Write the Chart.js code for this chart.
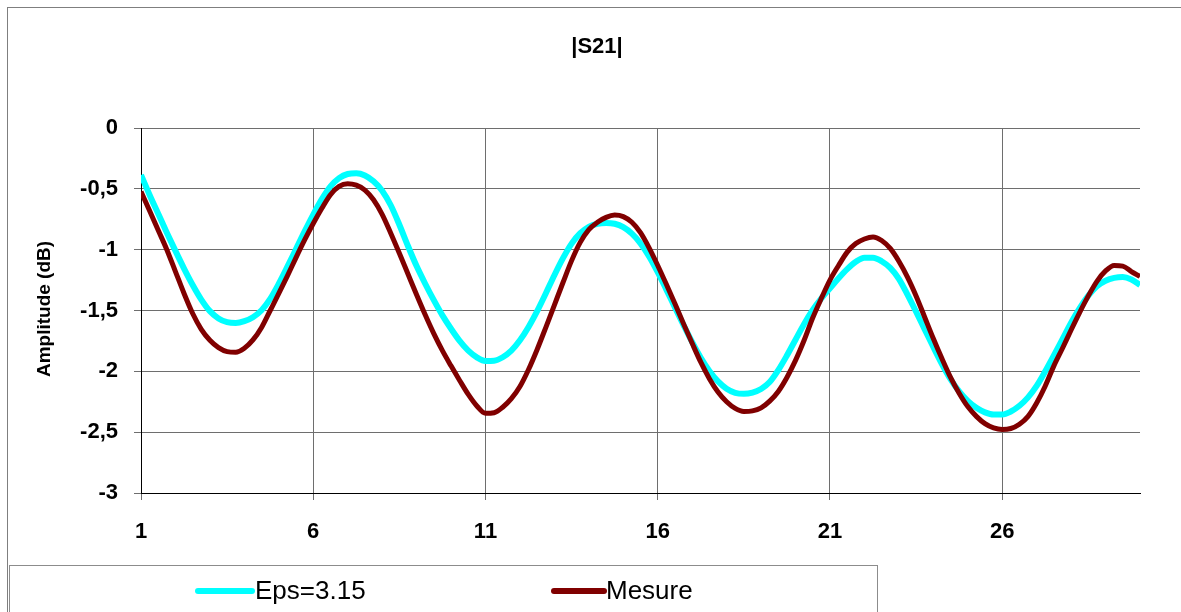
<!DOCTYPE html>
<html>
<head>
<meta charset="utf-8">
<script src="https://cdn.jsdelivr.net/npm/chart.js@4.4.1/dist/chart.umd.min.js"></script>
<style>
  html, body { margin: 0; padding: 0; background: #ffffff; }
  #wrap { position: relative; width: 1181px; height: 612px; }
</style>
</head>
<body>
<div id="wrap"><canvas id="c" width="1181" height="612"></canvas></div>
<script>
// |S21| amplitude (dB) versus frequency point
const chartTitle = '|S21|';
const yAxisTitle = 'Amplitude (dB)';
const seriesNames = ['Eps=3.15', 'Mesure'];
const seriesColors = ['#00FFFF', '#800000'];
const xTickValues = [1, 6, 11, 16, 21, 26];

const freq = [
  1, 1.25, 1.5, 1.75, 2, 2.25, 2.5, 2.75, 3, 3.25, 3.5, 3.75,
  4, 4.25, 4.5, 4.75, 5, 5.25, 5.5, 5.75, 6, 6.25, 6.5, 6.75,
  7, 7.25, 7.5, 7.75, 8, 8.25, 8.5, 8.75, 9, 9.25, 9.5, 9.75,
  10, 10.25, 10.5, 10.75, 11, 11.25, 11.5, 11.75, 12, 12.25, 12.5, 12.75,
  13, 13.25, 13.5, 13.75, 14, 14.25, 14.5, 14.75, 15, 15.25, 15.5, 15.75,
  16, 16.25, 16.5, 16.75, 17, 17.25, 17.5, 17.75, 18, 18.25, 18.5, 18.75,
  19, 19.25, 19.5, 19.75, 20, 20.25, 20.5, 20.75, 21, 21.25, 21.5, 21.75,
  22, 22.25, 22.5, 22.75, 23, 23.25, 23.5, 23.75, 24, 24.25, 24.5, 24.75,
  25, 25.25, 25.5, 25.75, 26, 26.25, 26.5, 26.75, 27, 27.25, 27.5, 27.75,
  28, 28.25, 28.5, 28.75, 29, 29.25, 29.5, 29.75, 30
];

const epsValues = [
  -0.386, -0.55, -0.705, -0.86, -1.01, -1.155, -1.29, -1.41, -1.505, -1.565, -1.596, -1.603,
  -1.588, -1.555, -1.498, -1.405, -1.28, -1.14, -0.995, -0.85, -0.712, -0.585, -0.48, -0.412,
  -0.378, -0.372, -0.39, -0.438, -0.515, -0.635, -0.795, -0.97, -1.135, -1.28, -1.415, -1.54,
  -1.65, -1.75, -1.83, -1.885, -1.915, -1.913, -1.884, -1.83, -1.745, -1.635, -1.505, -1.36,
  -1.21, -1.07, -0.95, -0.865, -0.812, -0.787, -0.78, -0.787, -0.815, -0.868, -0.948, -1.055,
  -1.185, -1.328, -1.475, -1.62, -1.76, -1.888, -1.997, -2.083, -2.143, -2.177, -2.185, -2.175,
  -2.145, -2.088, -1.99, -1.87, -1.74, -1.61, -1.495, -1.40, -1.318, -1.235, -1.16, -1.10,
  -1.066, -1.066, -1.095, -1.15, -1.24, -1.37, -1.51, -1.655, -1.80, -1.94, -2.065, -2.165,
  -2.243, -2.30, -2.337, -2.355, -2.355, -2.33, -2.283, -2.214, -2.12, -2.0, -1.87, -1.735,
  -1.60, -1.48, -1.378, -1.30, -1.255, -1.232, -1.225, -1.245, -1.29
];

const mesureValues = [
  -0.523, -0.68, -0.84, -1.0, -1.18, -1.36, -1.525, -1.655, -1.745, -1.805, -1.838, -1.843,
  -1.81, -1.742, -1.639, -1.50, -1.36, -1.215, -1.065, -0.92, -0.785, -0.66, -0.548, -0.48,
  -0.458, -0.47, -0.51, -0.59, -0.71, -0.865, -1.03, -1.20, -1.37, -1.535, -1.69, -1.83,
  -1.955, -2.075, -2.19, -2.285, -2.345, -2.34, -2.295, -2.225, -2.125, -1.985, -1.82, -1.64,
  -1.455, -1.27, -1.09, -0.94, -0.835, -0.775, -0.735, -0.716, -0.728, -0.775, -0.86, -0.985,
  -1.13, -1.285, -1.445, -1.61, -1.77, -1.925, -2.06, -2.17, -2.25, -2.305, -2.33, -2.325,
  -2.30, -2.245, -2.165, -2.05, -1.91, -1.745, -1.56, -1.40, -1.25, -1.13, -1.02, -0.95,
  -0.912, -0.895, -0.925, -0.99, -1.095, -1.225, -1.38, -1.555, -1.73, -1.895, -2.05, -2.18,
  -2.29, -2.37, -2.43, -2.465, -2.478, -2.47, -2.435, -2.37, -2.26, -2.12, -1.955, -1.81,
  -1.66, -1.515, -1.38, -1.26, -1.175, -1.13, -1.135, -1.18, -1.22
];

const FONT = "'Liberation Sans', Arial, Helvetica, sans-serif";

function toPoints(values) {
  return freq.map((f, i) => ({ x: f, y: values[i] }));
}

// Frame, title, vertical axis title and the legend box
const decorations = {
  id: 'decorations',
  beforeDraw(chart) {
    const ctx = chart.ctx;
    ctx.save();
    ctx.fillStyle = '#ffffff';
    ctx.fillRect(0, 0, chart.width, chart.height);
    ctx.strokeStyle = '#7f7f7f';
    ctx.lineWidth = 1;
    ctx.strokeRect(7.5, 7.5, 1300, 800);
    ctx.restore();
  },
  afterDraw(chart) {
    const ctx = chart.ctx;
    ctx.save();
    ctx.fillStyle = '#000000';
    ctx.textAlign = 'center';
    ctx.textBaseline = 'middle';
    ctx.font = 'bold 22px ' + FONT;
    ctx.fillText(chartTitle, 597, 47);

    ctx.save();
    ctx.translate(45, 309);
    ctx.rotate(-Math.PI / 2);
    ctx.font = 'bold 19px ' + FONT;
    ctx.fillText(yAxisTitle, 0, 0);
    ctx.restore();

    // legend
    ctx.strokeStyle = '#8c8c8c';
    ctx.lineWidth = 1;
    ctx.strokeRect(9.5, 565.5, 868, 100);
    const entries = [
      { x0: 198, x1: 252, tx: 255 },
      { x0: 554, x1: 604, tx: 606 }
    ];
    const ly = 591;
    chart.data.datasets.forEach((ds, i) => {
      const e = entries[i];
      ctx.strokeStyle = ds.borderColor;
      ctx.lineWidth = 6;
      ctx.lineCap = 'round';
      ctx.beginPath();
      ctx.moveTo(e.x0, ly);
      ctx.lineTo(e.x1, ly);
      ctx.stroke();
      ctx.fillStyle = '#000000';
      ctx.textAlign = 'left';
      ctx.font = '26px ' + FONT;
      ctx.fillText(ds.label, e.tx, ly + 1);
    });
    ctx.restore();
  }
};

new Chart(document.getElementById('c'), {
  type: 'line',
  data: {
    datasets: [
      {
        label: seriesNames[0],
        data: toPoints(epsValues),
        borderColor: seriesColors[0],
        borderWidth: 6,
        pointRadius: 0,
        cubicInterpolationMode: 'monotone',
        fill: false,
        order: 2
      },
      {
        label: seriesNames[1],
        data: toPoints(mesureValues),
        borderColor: seriesColors[1],
        borderWidth: 5,
        pointRadius: 0,
        cubicInterpolationMode: 'monotone',
        fill: false,
        order: 1
      }
    ]
  },
  options: {
    responsive: false,
    animation: false,
    devicePixelRatio: 1,
    layout: { padding: { top: 128, right: 41, left: 0, bottom: 0 } },
    plugins: {
      legend: { display: false },
      title: { display: false },
      tooltip: { enabled: false }
    },
    scales: {
      x: {
        type: 'linear',
        min: 1,
        max: 30,
        afterBuildTicks: (scale) => { scale.ticks = xTickValues.map(v => ({ value: v })); },
        afterFit: (scale) => { scale.height = 119; },
        grid: { color: '#6e6e6e', lineWidth: 1, tickLength: 7, drawTicks: true },
        border: { display: true, color: '#000000', width: 1 },
        ticks: {
          color: '#000000',
          font: { family: FONT, size: 22, weight: 'bold' },
          padding: 19,
          maxRotation: 0,
          autoSkip: false
        }
      },
      y: {
        min: -3,
        max: 0,
        afterFit: (scale) => { scale.width = 141; },
        grid: { color: '#6e6e6e', lineWidth: 1, tickLength: 7, drawTicks: true },
        border: { display: true, color: '#000000', width: 1 },
        ticks: {
          stepSize: 0.5,
          color: '#000000',
          font: { family: FONT, size: 22, weight: 'bold' },
          padding: 16,
          callback: (v) => String(v).replace('.', ',')
        }
      }
    }
  },
  plugins: [decorations]
});
</script>
</body>
</html>
